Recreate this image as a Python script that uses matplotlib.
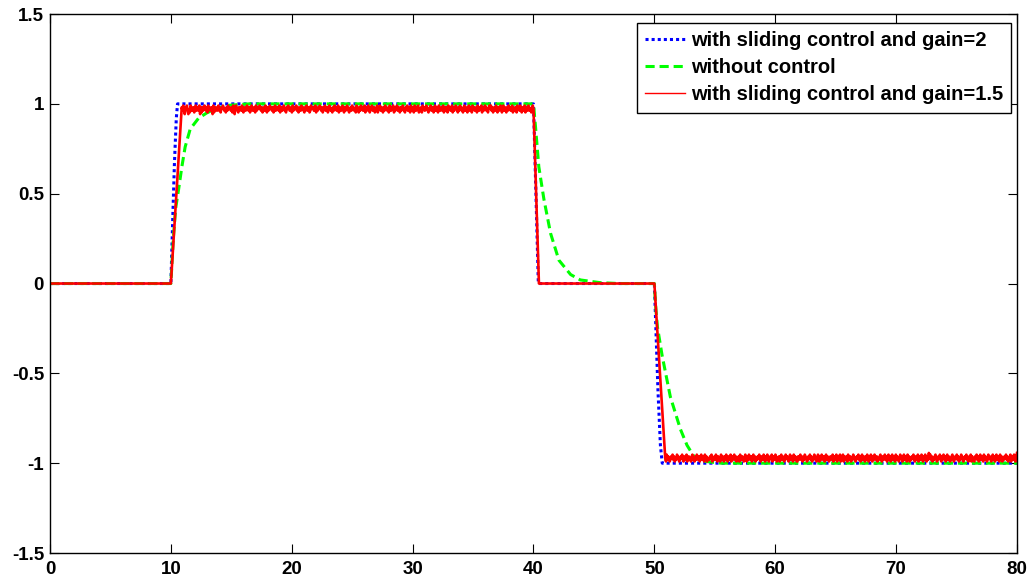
import numpy as np
import matplotlib
matplotlib.use('Agg')
import matplotlib.pyplot as plt

plt.rcParams['font.family'] = ['Liberation Sans', 'DejaVu Sans']
plt.rcParams['axes.unicode_minus'] = False

# blue dotted: sliding control, gain=2
blue_t = [0, 10, 10.15, 10.3, 10.45, 10.55, 40, 40.12, 40.25, 40.4, 50, 50.15, 50.3, 50.5, 50.65, 80]
blue_y = [0, 0, 0.35, 0.68, 0.92, 1.0, 1.0, 0.7, 0.38, 0.0, 0.0, -0.3, -0.6, -0.9, -1.0, -1.0]

# green dashed: without control
green_t = [0, 10, 10.2, 10.4, 10.63, 10.91, 11.18, 11.6, 12.29, 12.98, 13.8, 14.8, 16.5, 40,
           40.17, 40.44, 40.86, 41.41, 42.1, 43.07, 43.87, 45.5, 47, 50,
           50.1, 50.25, 50.64, 51.32, 52.15, 52.7, 53.25, 54.2, 55.5, 80]
green_y = [0, 0, 0.25, 0.42, 0.52, 0.65, 0.76, 0.86, 0.92, 0.95, 0.975, 0.992, 1.0, 1.0,
           0.87, 0.65, 0.47, 0.28, 0.13, 0.05, 0.02, 0.005, 0.0, 0.0,
           -0.12, -0.24, -0.40, -0.63, -0.81, -0.9, -0.96, -0.99, -1.0, -1.0]

# red solid: sliding control, gain=1.5
# noise read in steps of 0.0095 off the +/-1 level, one digit per sample
red_top_noise = (
    "241362314635124325314234162524313425132432615323421435231243"
    "524132342513621345232413523421342531243251432312425324135243"
    "132425314232415324213452312432514323142532413245231432541322"
    "431524321342532143253124352413243152342135243124532413243512"
    "352413243152431253214325341523142352413243512432154231423524"
    "213452314235143251243215342513243124532143253142351243241532"
    "425132431524312352413245314235214325132432513423152431243521"
    "314253241352431253142352413243152342513241352431523412435213"
)
red_bot_noise = (
    "315243124352413254312435214325134231452314253241352431524132"
    "243513242531423152431425314325142352413241532431253142532413"
    "524132435214325314253124351432541324135243125342135243152431"
    "142352413254312435241325431253142532413524312432513425132451"
    "325143241532413254312435241352431425314253142532413245314235"
    "241352413524315243125341352431524132435214325143253142531426"
    "352413245312435214352413524312453124352413254312435241325143"
    "214352413524315243125342135241352431524132435241325143253146"
)
red_top_span = (10.9, 40.0)
red_bot_span = (50.9, 80.0)

top_vals = np.array([int(c) for c in red_top_noise])
bot_vals = np.array([int(c) for c in red_bot_noise])
t_top = np.linspace(red_top_span[0], red_top_span[1], len(top_vals))
y_top = 1 - top_vals * 0.0095
t_bot = np.linspace(red_bot_span[0], red_bot_span[1], len(bot_vals))
y_bot = -1 + bot_vals * 0.0095

red_t = np.concatenate([[0, 10], t_top, [40.45, 50], t_bot])
red_y = np.concatenate([[0, 0], y_top, [0, 0], y_bot])

fig = plt.figure(figsize=(10.33, 5.82), dpi=100)
ax = fig.add_axes([0.0484, 0.0498, 0.9361, 0.9261])

ax.plot(blue_t, blue_y, color='#0000ff', lw=2.2, linestyle=(0, (1, 1)),
        label='with sliding control and gain=2')
ax.plot(green_t, green_y, color='#00ff00', lw=2.2, linestyle=(0, (3, 1.6)),
        label='without control')
ax.plot(red_t, red_y, color='#ff0000', lw=1.9, label='with sliding control and gain=1.5')

ax.set_xlim(0, 80)
ax.set_ylim(-1.5, 1.5)
ax.set_xticks(range(0, 81, 10))
ax.set_yticks([-1.5, -1, -0.5, 0, 0.5, 1, 1.5])
ax.set_yticklabels(['%g' % v for v in [-1.5, -1, -0.5, 0, 0.5, 1, 1.5]])
ax.tick_params(direction='in', length=6.5, width=0.8, top=True, right=True, labelsize=13.5)
ax.tick_params(axis='x', pad=6)
ax.tick_params(axis='y', pad=4.3)
for lab in ax.get_xticklabels() + ax.get_yticklabels():
    lab.set_fontweight('bold')
for s in ax.spines.values():
    s.set_linewidth(1.0)

leg = ax.legend(loc='upper right', bbox_to_anchor=(0.9938, 0.9828), borderaxespad=0,
                fancybox=False, framealpha=1, edgecolor='black',
                prop={'weight': 'bold', 'size': 14.5},
                handlelength=2.0, handletextpad=0.26, labelspacing=0.4, borderpad=0.4)
leg.get_frame().set_linewidth(1.0)
leg.get_lines()[2].set_linewidth(1.0)

fig.savefig('out.png', dpi=100)
